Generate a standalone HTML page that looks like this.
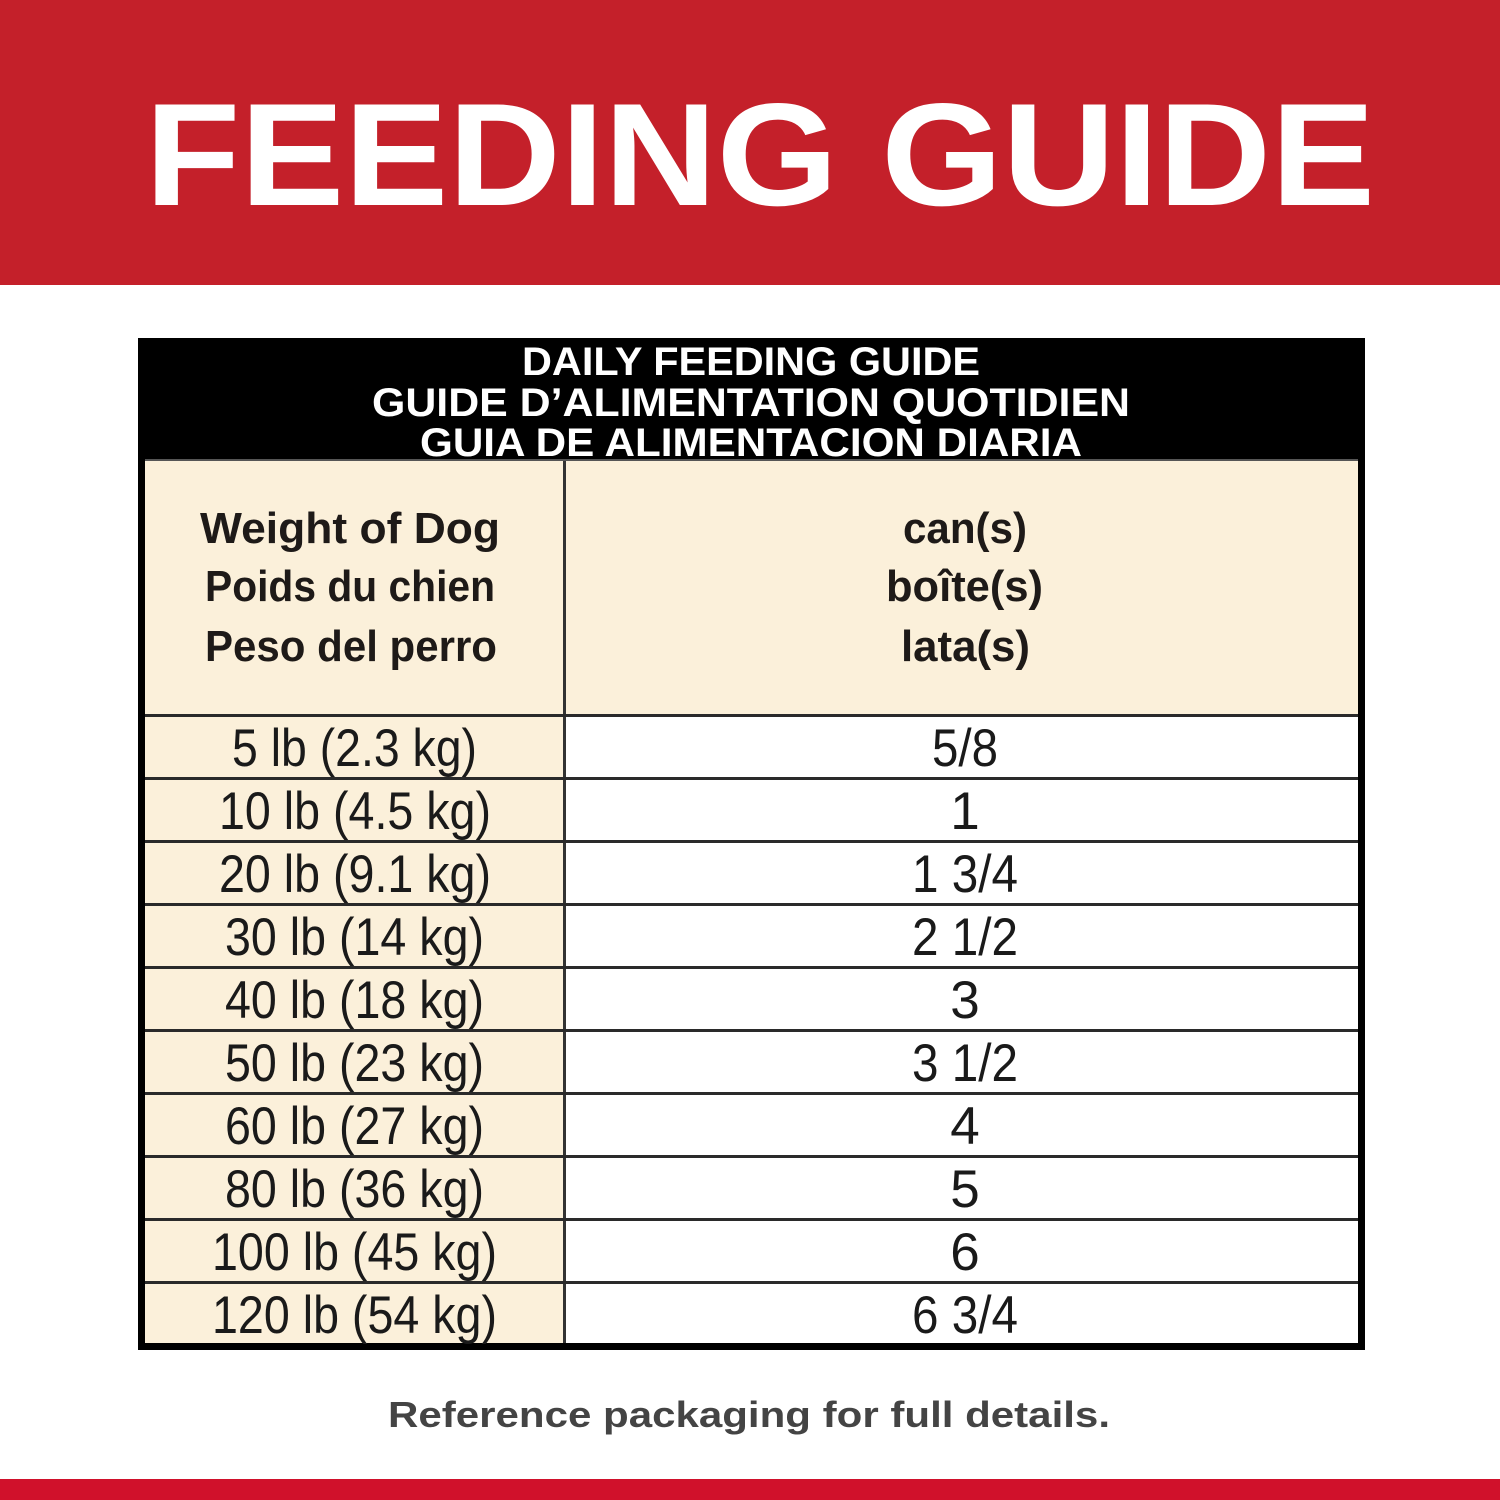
<!DOCTYPE html>
<html><head><meta charset="utf-8"><style>
html,body{margin:0;padding:0;background:#fff;}
svg{display:block;}
</style></head><body>
<svg width="1500" height="1500" viewBox="0 0 1500 1500" xmlns="http://www.w3.org/2000/svg" font-family="Liberation Sans, sans-serif">
<rect x="0" y="0" width="1500" height="285" fill="#c4202a"/>
<text x="145" y="205" font-size="146" font-weight="bold" fill="#fff" textLength="1230" lengthAdjust="spacingAndGlyphs">FEEDING GUIDE</text>
<rect x="0" y="1479" width="1500" height="21" fill="#d0112b"/>

<!-- table -->
<rect x="138" y="338" width="1227" height="1012" fill="#000"/>
<rect x="145" y="460" width="420" height="883" fill="#fbf0da"/>
<rect x="565" y="460" width="793" height="255" fill="#fbf0da"/>
<rect x="565" y="717" width="793" height="626" fill="#fff"/>
<rect x="563" y="460" width="3" height="883" fill="#333"/>
<rect x="145" y="459" width="1213" height="2" fill="#555"/>
<g fill="#2a2a2a">
<rect x="145" y="714" width="1213" height="3"/>
<rect x="145" y="777" width="1213" height="3"/>
<rect x="145" y="840" width="1213" height="3"/>
<rect x="145" y="903" width="1213" height="3"/>
<rect x="145" y="966" width="1213" height="3"/>
<rect x="145" y="1029" width="1213" height="3"/>
<rect x="145" y="1092" width="1213" height="3"/>
<rect x="145" y="1155" width="1213" height="3"/>
<rect x="145" y="1218" width="1213" height="3"/>
<rect x="145" y="1281" width="1213" height="3"/>
</g>

<g fill="#fff" font-weight="bold" font-size="40">
<text x="522" y="375" textLength="458" lengthAdjust="spacingAndGlyphs">DAILY FEEDING GUIDE</text>
<text x="372" y="416" textLength="758" lengthAdjust="spacingAndGlyphs">GUIDE D’ALIMENTATION QUOTIDIEN</text>
<text x="420" y="456" textLength="662" lengthAdjust="spacingAndGlyphs">GUIA DE ALIMENTACION DIARIA</text>
</g>

<g fill="#1e1a18" font-weight="bold" font-size="44">
<text x="200" y="543" textLength="300" lengthAdjust="spacingAndGlyphs">Weight of Dog</text>
<text x="205" y="601" textLength="290" lengthAdjust="spacingAndGlyphs">Poids du chien</text>
<text x="205" y="661" textLength="292" lengthAdjust="spacingAndGlyphs">Peso del perro</text>
<text x="903" y="543" textLength="124" lengthAdjust="spacingAndGlyphs">can(s)</text>
<text x="886" y="601" textLength="157" lengthAdjust="spacingAndGlyphs">boîte(s)</text>
<text x="901" y="661" textLength="129" lengthAdjust="spacingAndGlyphs">lata(s)</text>
</g>

<g fill="#1a1a1a" font-size="53">
<text x="232" y="766" textLength="245" lengthAdjust="spacingAndGlyphs">5 lb (2.3 kg)</text>
<text x="219" y="829" textLength="272" lengthAdjust="spacingAndGlyphs">10 lb (4.5 kg)</text>
<text x="219" y="892" textLength="272" lengthAdjust="spacingAndGlyphs">20 lb (9.1 kg)</text>
<text x="225" y="955" textLength="259" lengthAdjust="spacingAndGlyphs">30 lb (14 kg)</text>
<text x="225" y="1018" textLength="259" lengthAdjust="spacingAndGlyphs">40 lb (18 kg)</text>
<text x="225" y="1081" textLength="259" lengthAdjust="spacingAndGlyphs">50 lb (23 kg)</text>
<text x="225" y="1144" textLength="259" lengthAdjust="spacingAndGlyphs">60 lb (27 kg)</text>
<text x="225" y="1207" textLength="259" lengthAdjust="spacingAndGlyphs">80 lb (36 kg)</text>
<text x="212" y="1270" textLength="285" lengthAdjust="spacingAndGlyphs">100 lb (45 kg)</text>
<text x="212" y="1333" textLength="285" lengthAdjust="spacingAndGlyphs">120 lb (54 kg)</text>
</g>
<g fill="#1a1a1a" font-size="53">
<text x="932" y="766" textLength="66" lengthAdjust="spacingAndGlyphs">5/8</text>
<text x="965" y="829" text-anchor="middle">1</text>
<text x="912" y="892" textLength="106" lengthAdjust="spacingAndGlyphs">1 3/4</text>
<text x="912" y="955" textLength="106" lengthAdjust="spacingAndGlyphs">2 1/2</text>
<text x="965" y="1018" text-anchor="middle">3</text>
<text x="912" y="1081" textLength="106" lengthAdjust="spacingAndGlyphs">3 1/2</text>
<text x="965" y="1144" text-anchor="middle">4</text>
<text x="965" y="1207" text-anchor="middle">5</text>
<text x="965" y="1270" text-anchor="middle">6</text>
<text x="912" y="1333" textLength="106" lengthAdjust="spacingAndGlyphs">6 3/4</text>
</g>

<text x="388" y="1427" font-size="36" font-weight="bold" fill="#444" textLength="722" lengthAdjust="spacingAndGlyphs">Reference packaging for full details.</text>
</svg>
</body></html>
